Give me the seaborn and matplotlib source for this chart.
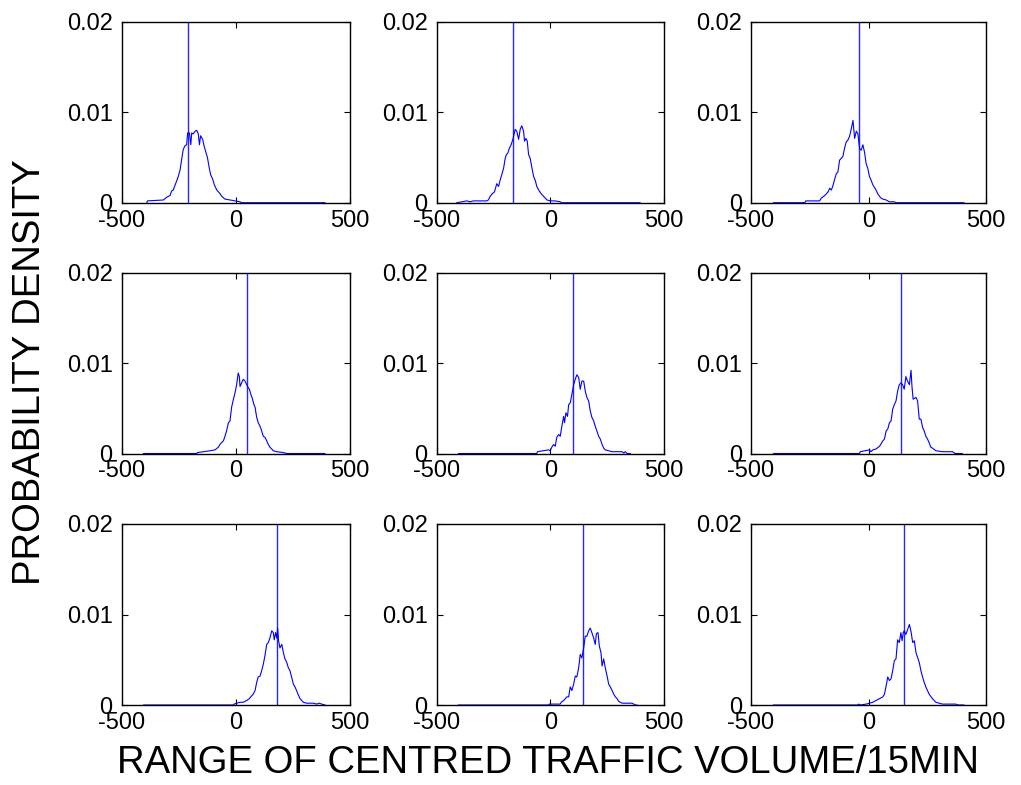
import matplotlib
matplotlib.use("Agg")
import matplotlib.pyplot as plt
import seaborn as sns
import pandas as pd

# ---- data ----
p1_x = [-390, -387, -317, -303, -288, -281, -274, -259, -252, -244, -237, -230, -222, -215, -211, -203, -197, -193, -186, -178, -171, -164, -159, -154, -145, -139, -130, -124, -115, -110, -101, -94, -83, -72, -61, -47, -25, -3, 19, 26, 392]
p1_y = [0, 0.0002, 0.0003, 0.0006, 0.0008, 0.0013, 0.0014, 0.0024, 0.0029, 0.0036, 0.0048, 0.0059, 0.0063, 0.0064, 0.0077, 0.0077, 0.0064, 0.0077, 0.0076, 0.0079, 0.0080, 0.0076, 0.0064, 0.0074, 0.0070, 0.0063, 0.0055, 0.0050, 0.0037, 0.0031, 0.0026, 0.0020, 0.0014, 0.0011, 0.0007, 0.0004, 0.0003, 0.0002, 0.0001, 0, 0]

p2_x = [-412, -368, -353, -339, -280, -273, -265, -255, -246, -236, -228, -221, -214, -206, -199, -194, -187, -181, -173, -165, -155, -148, -140, -133, -126, -118, -114, -108, -102, -96, -89, -81, -74, -67, -60, -52, -41, -30, -15, -1, 21, 43, 50, 395]
p2_y = [0, 0.0002, 0.0001, 0.0002, 0.0002, 0.0003, 0.0007, 0.0010, 0.0012, 0.0021, 0.0018, 0.0025, 0.0031, 0.0038, 0.0049, 0.0053, 0.0055, 0.0060, 0.0064, 0.0070, 0.0081, 0.0079, 0.0070, 0.0081, 0.0085, 0.0079, 0.0068, 0.0071, 0.0068, 0.0053, 0.0049, 0.0038, 0.0029, 0.0025, 0.0018, 0.0014, 0.0010, 0.0007, 0.0003, 0.0002, 0.0002, 0.0001, 0, 0]

p3_x = [-405, -271, -267, -208, -201, -191, -182, -172, -165, -158, -151, -144, -137, -130, -123, -116, -109, -102, -95, -88, -81, -73, -66, -59, -52, -45, -38, -31, -24, -17, -10, -3, 4, 11, 18, 25, 32, 39, 47, 54, 61, 75, 89, 110, 117, 407]
p3_y = [0, 0, 0.0002, 0.0002, 0.0005, 0.0007, 0.0009, 0.0012, 0.0016, 0.0014, 0.0019, 0.0026, 0.0032, 0.0034, 0.0047, 0.0049, 0.0051, 0.0060, 0.0067, 0.0069, 0.0073, 0.0082, 0.0091, 0.0071, 0.0079, 0.0076, 0.0060, 0.0058, 0.0064, 0.0056, 0.0043, 0.0038, 0.0029, 0.0025, 0.0020, 0.0017, 0.0014, 0.0010, 0.0007, 0.0005, 0.0004, 0.0003, 0.0001, 0.0001, 0, 0]

p4_x = [-405, -171, -168, -113, -91, -76, -69, -62, -54, -47, -40, -32, -25, -18, -10, -3, 4, 11, 16, 19, 26, 33, 41, 52, 60, 67, 74, 80, 85, 92, 99, 107, 114, 121, 128, 136, 143, 150, 158, 165, 180, 209, 224, 392]
p4_y = [0, 0, 0.0001, 0.0003, 0.0004, 0.0007, 0.0010, 0.0012, 0.0014, 0.0019, 0.0025, 0.0034, 0.0036, 0.0051, 0.0060, 0.0067, 0.0076, 0.0089, 0.0085, 0.0074, 0.0078, 0.0082, 0.0080, 0.0074, 0.0071, 0.0065, 0.0060, 0.0054, 0.0051, 0.0040, 0.0034, 0.0030, 0.0025, 0.0019, 0.0018, 0.0014, 0.0010, 0.0007, 0.0005, 0.0003, 0.0002, 0.0001, 0, 0]

p5_x = [-405, -60, -57, -8, -1, 6, 14, 21, 28, 36, 43, 50, 58, 62, 68, 75, 80, 87, 94, 102, 109, 116, 124, 131, 138, 146, 153, 160, 168, 175, 182, 190, 197, 204, 212, 219, 227, 234, 241, 256, 271, 315, 322, 329, 337, 351]
p5_y = [0, 0, 0.0002, 0.0004, 0.0003, 0.0007, 0.0010, 0.0008, 0.0018, 0.0021, 0.0019, 0.0030, 0.0041, 0.0034, 0.0045, 0.0041, 0.0054, 0.0056, 0.0065, 0.0076, 0.0082, 0.0087, 0.0084, 0.0071, 0.0080, 0.0080, 0.0069, 0.0062, 0.0058, 0.0047, 0.0040, 0.0036, 0.0030, 0.0025, 0.0019, 0.0016, 0.0010, 0.0006, 0.0004, 0.0003, 0.0002, 0.0002, 0.00005, 0.0002, 0, 0]

p6_x = [-405, -38, -35, 4, 11, 18, 32, 47, 61, 68, 75, 82, 89, 96, 103, 110, 117, 124, 131, 138, 145, 152, 159, 166, 174, 181, 185, 190, 202, 209, 216, 223, 230, 237, 244, 251, 258, 265, 272, 287, 315, 357, 369, 400]
p6_y = [0, 0, 0.0002, 0.0004, 0.0002, 0.0004, 0.0005, 0.0008, 0.0014, 0.0016, 0.0025, 0.0027, 0.0034, 0.0036, 0.0049, 0.0054, 0.0058, 0.0069, 0.0076, 0.0078, 0.0076, 0.0071, 0.0085, 0.0080, 0.0076, 0.0092, 0.0074, 0.0060, 0.0062, 0.0058, 0.0038, 0.0038, 0.0029, 0.0025, 0.0019, 0.0016, 0.0012, 0.0007, 0.0006, 0.0003, 0.0002, 0.0002, 0, 0]

p7_x = [-405, -10, -7, 4, 19, 33, 48, 60, 66, 77, 85, 92, 99, 107, 114, 121, 128, 136, 143, 150, 158, 165, 169, 175, 180, 184, 188, 194, 202, 209, 216, 224, 231, 238, 245, 253, 260, 267, 275, 282, 297, 311, 341, 355, 367, 377, 392]
p7_y = [0, 0, 0.0001, 0.0002, 0.0003, 0.0003, 0.0005, 0.0007, 0.0009, 0.0012, 0.0016, 0.0025, 0.0031, 0.0032, 0.0038, 0.0045, 0.0054, 0.0067, 0.0069, 0.0074, 0.0082, 0.0080, 0.0072, 0.0080, 0.0074, 0.0085, 0.0071, 0.0063, 0.0067, 0.0058, 0.0051, 0.0047, 0.0041, 0.0038, 0.0031, 0.0023, 0.0020, 0.0016, 0.0011, 0.0007, 0.0003, 0.0002, 0.0002, 0.0001, 0.0002, 0.0001, 0]

p8_x = [-405, -8, -5, 43, 47, 58, 72, 80, 87, 94, 102, 109, 116, 124, 131, 138, 146, 153, 160, 168, 175, 182, 190, 197, 202, 209, 215, 222, 227, 234, 241, 249, 256, 263, 271, 278, 285, 293, 300, 315, 359, 373, 381]
p8_y = [0, 0, 0.0001, 0.0001, 0.0003, 0.0005, 0.0009, 0.0009, 0.0020, 0.0016, 0.0023, 0.0032, 0.0031, 0.0041, 0.0056, 0.0052, 0.0063, 0.0076, 0.0076, 0.0082, 0.0085, 0.0080, 0.0074, 0.0067, 0.0079, 0.0080, 0.0065, 0.0058, 0.0043, 0.0051, 0.0041, 0.0032, 0.0023, 0.0020, 0.0016, 0.0012, 0.0009, 0.0007, 0.0004, 0.0002, 0.0002, 0, 0]

p9_x = [-405, -45, -42, -35, -10, 4, 18, 32, 47, 54, 61, 68, 75, 82, 89, 96, 103, 110, 117, 124, 131, 138, 143, 148, 152, 159, 166, 174, 181, 188, 195, 202, 216, 223, 230, 237, 244, 251, 258, 272, 287, 301, 315, 371, 383, 407]
p9_y = [0, 0, 0.0001, 0, 0.0001, 0.0002, 0.0003, 0.0005, 0.0007, 0.0008, 0.0009, 0.0012, 0.0021, 0.0031, 0.0027, 0.0029, 0.0038, 0.0049, 0.0051, 0.0072, 0.0069, 0.0080, 0.0071, 0.0080, 0.0082, 0.0078, 0.0083, 0.0089, 0.0081, 0.0069, 0.0071, 0.0058, 0.0047, 0.0038, 0.0031, 0.0025, 0.0020, 0.0016, 0.0012, 0.0007, 0.0003, 0.0002, 0.0001, 0.0001, 0, 0]

vlines = [-210, -163, -42, 50, 100, 140, 180, 145, 150]

x_ticks = [-500, 0, 500]
x_ticklabels = ["-500", "0", "500"]
y_ticks = [0, 0.01, 0.02]
y_ticklabels = ["0", "0.01", "0.02"]
x_label = "RANGE OF CENTRED TRAFFIC VOLUME/15MIN"
y_label = "PROBABILITY DENSITY"

panels_x = [p1_x, p2_x, p3_x, p4_x, p5_x, p6_x, p7_x, p8_x, p9_x]
panels_y = [p1_y, p2_y, p3_y, p4_y, p5_y, p6_y, p7_y, p8_y, p9_y]

# ---- styling ----
sns.set_style("white")
plt.rcParams["font.family"] = ["Liberation Sans", "DejaVu Sans"]
plt.rcParams["text.color"] = "black"
plt.rcParams["axes.labelcolor"] = "black"
plt.rcParams["xtick.color"] = "black"
plt.rcParams["ytick.color"] = "black"

W, H = 1021, 785
fig = plt.figure(figsize=(W / 100, H / 100), dpi=100)

col_left = [121.7, 436.7, 751.0]
col_width = [228.0, 227.5, 235.0]
row_top = [21.7, 272.5, 524.0]
row_h = 181.0

blue = "#0000ff"
for i in range(9):
    r, c = divmod(i, 3)
    left = col_left[c] / W
    bottom = 1 - (row_top[r] + row_h) / H
    ax = fig.add_axes([left, bottom, col_width[c] / W, row_h / H])
    df = pd.DataFrame({"x": panels_x[i], "y": panels_y[i]})
    sns.lineplot(data=df, x="x", y="y", ax=ax, color=blue, linewidth=0.8,
                 estimator=None, sort=False)
    ax.axvline(vlines[i], color=blue, linewidth=1.0, alpha=0.85)
    ax.set_xlim(-500, 500)
    ax.set_ylim(0, 0.02)
    ax.set_xticks(x_ticks)
    ax.set_xticklabels(x_ticklabels)
    ax.set_yticks(y_ticks)
    ax.set_yticklabels(y_ticklabels)
    ax.set_xlabel("")
    ax.set_ylabel("")
    ax.tick_params(axis="both", direction="in", length=4, width=0.8, top=True, right=True,
                   bottom=True, left=True, labelsize=17, colors="black")
    ax.tick_params(axis="x", pad=5)
    ax.tick_params(axis="y", pad=6.5)
    for s in ax.spines.values():
        s.set_visible(True)
        s.set_color("black")
        s.set_linewidth(1.0)
    ax.set_facecolor("white")

fig.text(548 / W, 1 - 763 / H, x_label, ha="center", va="center", fontsize=27.5, color="black")
fig.text(30 / W, 1 - 372 / H, y_label, ha="center", va="center", rotation=90, fontsize=27.5, color="black")

fig.savefig("out.png", dpi=100, facecolor="white")
